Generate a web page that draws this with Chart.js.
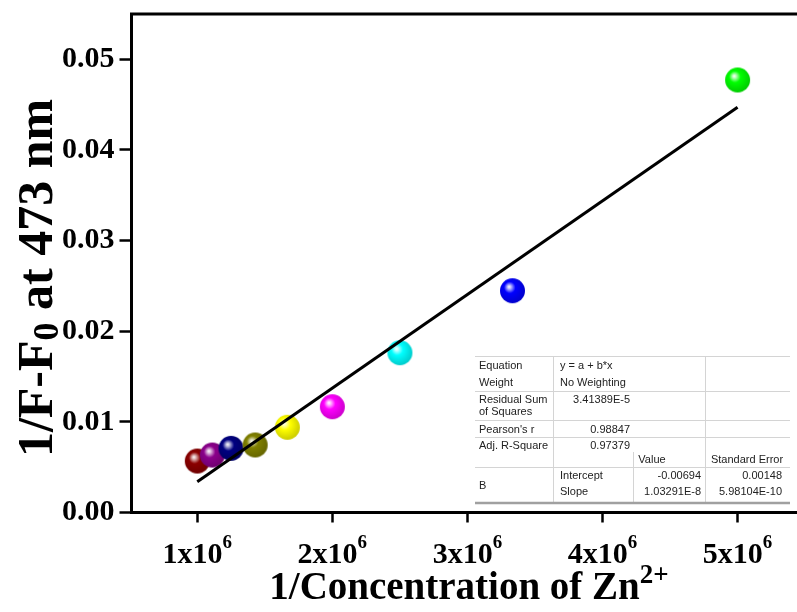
<!DOCTYPE html>
<html lang="en">
  <head>
    <meta charset="UTF-8" />
    <title>1/F-F0 vs 1/[Zn2+]</title>
    <script src="https://cdn.jsdelivr.net/npm/chart.js"></script>
    <style>
      body {
        margin: 0;
        padding: 0;
        background: #fff;
      }
      #wrap {
        width: 797px;
        height: 612px;
        overflow: hidden;
      }
    </style>
  </head>
  <body>
    <div id="wrap">
      <canvas id="bhPlot" width="797" height="612"></canvas>
    </div>

    <script>
      // 1/[Zn2+] (M^-1) and 1/(F-F0) at 473 nm
      const invConc = [1.0e6, 1.1111e6, 1.25e6, 1.4286e6, 1.6667e6, 2.0e6, 2.5e6, 3.3333e6, 5.0e6];
      const invDeltaF = [0.00568, 0.00634, 0.00708, 0.00745, 0.0094, 0.01167, 0.01763, 0.02447, 0.04772];
      const ballColors = ["#8b0000", "#8b008b", "#000080", "#808000", "#ffff00", "#ff00ff", "#00ffff", "#0000ff", "#00ff00"];

      // linear fit y = a + b*x
      const fitIntercept = -0.00694;
      const fitSlope = 1.03291e-8;
      const fitRange = [1.0e6, 5.0e6];

      const xTicks = [1e6, 2e6, 3e6, 4e6, 5e6];
      const xTickMant = ["1", "2", "3", "4", "5"];
      const yTicks = [0, 0.01, 0.02, 0.03, 0.04, 0.05];

      // fit report table
      const statLabels = ["Equation", "Weight", "Residual Sum|of Squares", "Pearson's r", "Adj. R-Square"];
      const statValues = ["y = a + b*x", "No Weighting", "3.41389E-5", "0.98847", "0.97379"];
      const paramHeads = ["Value", "Standard Error"];
      const paramNames = ["Intercept", "Slope"];
      const paramValues = ["-0.00694", "1.03291E-8"];
      const paramErrors = ["0.00148", "5.98104E-10"];

      const SERIF = '"Liberation Serif", "Times New Roman", serif';
      const SANS = '"Liberation Sans", Arial, sans-serif';

      // glossy ball marker
      function shade(hex, f) {
        const n = parseInt(hex.slice(1), 16);
        let r = (n >> 16) & 255, g = (n >> 8) & 255, b = n & 255;
        if (f >= 0) {
          r += (255 - r) * f; g += (255 - g) * f; b += (255 - b) * f;
        } else {
          r *= 1 + f; g *= 1 + f; b *= 1 + f;
        }
        return `rgb(${Math.round(r)},${Math.round(g)},${Math.round(b)})`;
      }
      function makeBall(color) {
        const s = 27, c = s / 2, r = 12.5;
        const cv = document.createElement("canvas");
        cv.width = s; cv.height = s;
        const g = cv.getContext("2d");
        const grad = g.createRadialGradient(c - 3.5, c - 4, 0, c - 1.5, c - 2, r + 2);
        grad.addColorStop(0, "#ffffff");
        grad.addColorStop(0.12, shade(color, 0.75));
        grad.addColorStop(0.4, color);
        grad.addColorStop(1, shade(color, -0.2));
        g.fillStyle = grad;
        g.beginPath();
        g.arc(c, c, r, 0, Math.PI * 2);
        g.fill();
        return cv;
      }
      const balls = ballColors.map(makeBall);

      const points = invConc.map((x, i) => ({ x: x, y: invDeltaF[i] }));
      const fitLine = fitRange.map((x) => ({ x: x, y: fitIntercept + fitSlope * x }));

      // mixed-size text runs (for sub/superscripts)
      function runWidth(ctx, runs) {
        let w = 0;
        runs.forEach((r) => {
          ctx.font = `bold ${r.size}px ${r.family || SERIF}`;
          w += ctx.measureText(r.t).width;
        });
        return w;
      }
      function drawRuns(ctx, runs, x, y) {
        let cx = x;
        runs.forEach((r) => {
          ctx.font = `bold ${r.size}px ${r.family || SERIF}`;
          ctx.fillText(r.t, cx, y + (r.dy || 0));
          cx += ctx.measureText(r.t).width;
        });
      }

      function drawTable(ctx) {
        const L = 475, R = 790;
        const c1 = 479, c2 = 560, c3r = 630, v3r = 701, v4r = 782;
        ctx.save();
        ctx.fillStyle = "#ffffff";
        ctx.fillRect(L, 356, R - L, 148);
        ctx.strokeStyle = "#d4d4d4";
        ctx.lineWidth = 1;
        [356.5, 391.5, 420.5, 437.5, 467.5].forEach((y) => {
          ctx.beginPath(); ctx.moveTo(L, y); ctx.lineTo(R, y); ctx.stroke();
        });
        [553.5, 633.5, 705.5].forEach((x, i) => {
          ctx.beginPath(); ctx.moveTo(x, i === 1 ? 452 : 356); ctx.lineTo(x, 503); ctx.stroke();
        });
        ctx.strokeStyle = "#a0a0a0";
        ctx.lineWidth = 2.5;
        ctx.beginPath(); ctx.moveTo(L, 503); ctx.lineTo(R, 503); ctx.stroke();

        ctx.fillStyle = "#222";
        ctx.font = `11px ${SANS}`;
        ctx.textBaseline = "middle";
        const rowY = [366, 383, 400, 430, 446];
        statLabels.forEach((lab, i) => {
          ctx.textAlign = "left";
          lab.split("|").forEach((part, k) => ctx.fillText(part, c1, rowY[i] + k * 12));
          if (i < 2) {
            ctx.fillText(statValues[i], c2, rowY[i]);
          } else {
            ctx.textAlign = "right";
            ctx.fillText(statValues[i], c3r, rowY[i]);
          }
        });
        ctx.textAlign = "center";
        ctx.fillText(paramHeads[0], 652, 460);
        ctx.fillText(paramHeads[1], 747, 460);
        ctx.textAlign = "left";
        ctx.fillText("B", c1, 486);
        paramNames.forEach((p, i) => {
          const y = 476 + i * 16;
          ctx.textAlign = "left";
          ctx.fillText(p, c2, y);
          ctx.textAlign = "right";
          ctx.fillText(paramValues[i], v3r, y);
          ctx.fillText(paramErrors[i], v4r, y);
        });
        ctx.restore();
      }

      const decorations = {
        id: "decorations",
        afterDraw(chart) {
          const ctx = chart.ctx;
          const area = chart.chartArea;
          const xs = chart.scales.x;
          ctx.save();
          // top frame line
          ctx.strokeStyle = "#000";
          ctx.lineWidth = 3;
          ctx.beginPath();
          ctx.moveTo(area.left - 1.5, area.top);
          ctx.lineTo(chart.width + 2, area.top);
          ctx.stroke();

          ctx.fillStyle = "#000";
          ctx.textAlign = "left";
          ctx.textBaseline = "alphabetic";

          // x tick labels  n x 10^6
          xTicks.forEach((v, i) => {
            const runs = [
              { t: xTickMant[i] + "x10", size: 30 },
              { t: "6", size: 19, dy: -15 },
            ];
            const w = runWidth(ctx, runs);
            drawRuns(ctx, runs, xs.getPixelForValue(v) - w / 2, 563);
          });

          // x axis title
          const xt = [
            { t: "1/Concentration of Zn", size: 39 },
            { t: "2+", size: 27, dy: -16 },
          ];
          drawRuns(ctx, xt, 469 - runWidth(ctx, xt) / 2, 599);

          // y axis title, rotated
          const yt = [
            { t: "1/F-F", size: 50 },
            { t: "0", size: 36, dy: 6 },
            { t: " at 473 nm", size: 50 },
          ];
          ctx.save();
          ctx.translate(52, 278);
          ctx.rotate(-Math.PI / 2);
          drawRuns(ctx, yt, -runWidth(ctx, yt) / 2, 0);
          ctx.restore();

          drawTable(ctx);
          ctx.restore();
        },
      };

      new Chart(document.getElementById("bhPlot"), {
        type: "scatter",
        data: {
          datasets: [
            {
              data: fitLine,
              showLine: true,
              borderColor: "#000",
              borderWidth: 3,
              pointRadius: 0,
              order: 0,
            },
            {
              data: points,
              pointStyle: balls,
              pointRadius: 12.5,
              order: 1,
            },
          ],
        },
        options: {
          responsive: false,
          animation: false,
          layout: { autoPadding: false, padding: { left: 0, top: 14, right: 0, bottom: 0 } },
          plugins: {
            legend: { display: false },
            tooltip: { enabled: false },
          },
          scales: {
            x: {
              type: "linear",
              min: 0.513e6,
              max: 5.44e6,
              afterBuildTicks: (s) => {
                s.ticks = xTicks.map((v) => ({ value: v }));
              },
              afterFit: (s) => {
                s.height = 99.5;
                s.paddingLeft = 0;
                s.paddingRight = 0;
              },
              ticks: { display: false },
              grid: {
                drawOnChartArea: false,
                drawTicks: true,
                tickLength: 10,
                tickWidth: 2.5,
                tickColor: "#000",
              },
              border: { display: true, color: "#000", width: 3 },
            },
            y: {
              type: "linear",
              min: 0,
              max: 0.055,
              afterBuildTicks: (s) => {
                s.ticks = yTicks.map((v) => ({ value: v }));
              },
              afterFit: (s) => {
                s.width = 131.5;
                s.paddingTop = 0;
                s.paddingBottom = 0;
              },
              ticks: {
                color: "#000",
                padding: 5,
                font: { family: SERIF, size: 30, weight: "bold" },
                callback: (v) => v.toFixed(2),
              },
              grid: {
                drawOnChartArea: false,
                drawTicks: true,
                tickLength: 12,
                tickWidth: 2.5,
                tickColor: "#000",
              },
              border: { display: true, color: "#000", width: 3 },
            },
          },
        },
        plugins: [decorations],
      });
    </script>
  </body>
</html>
